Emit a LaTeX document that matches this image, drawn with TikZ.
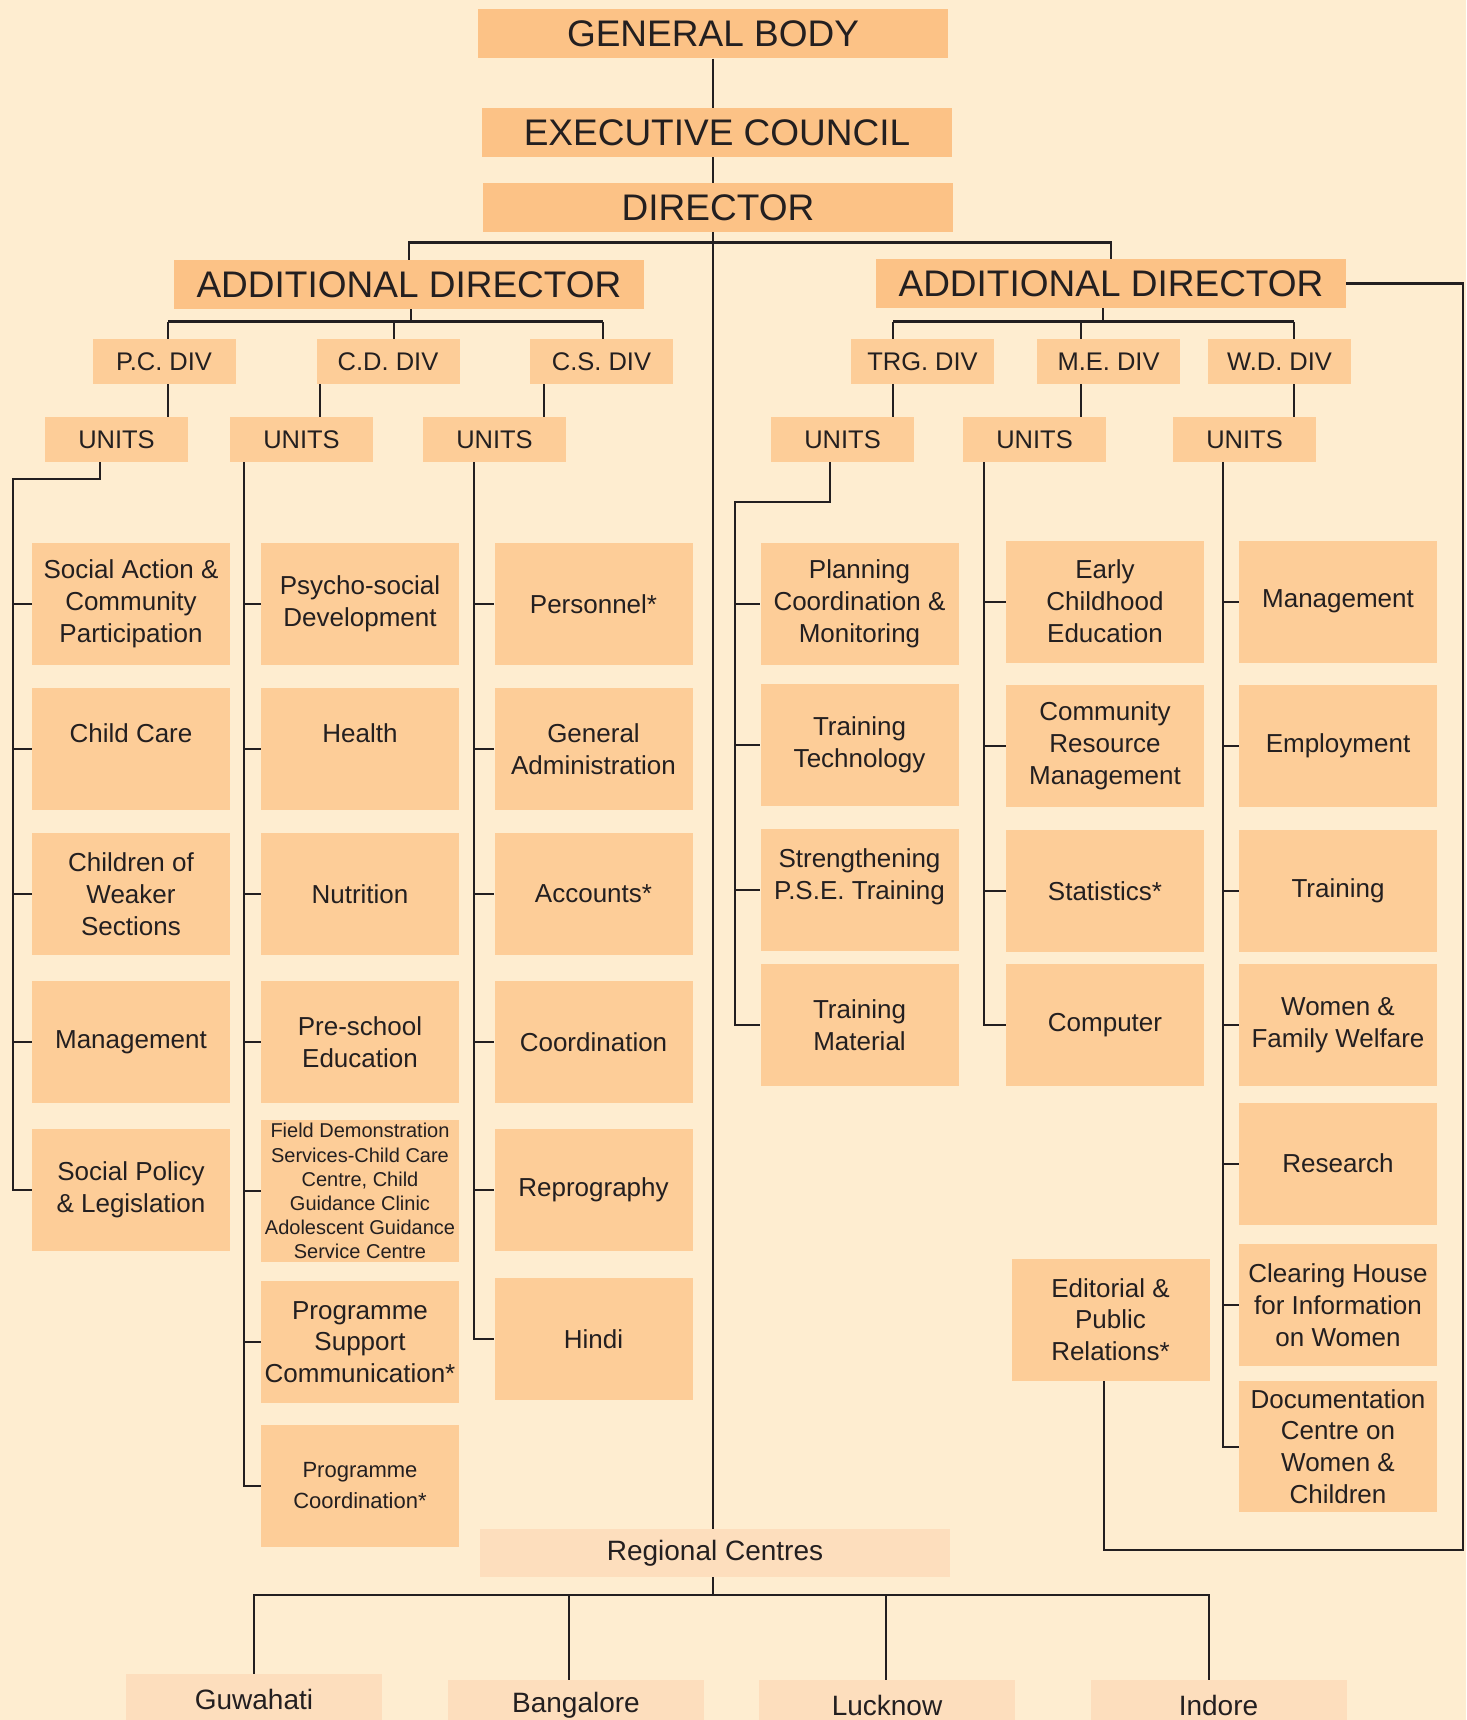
\documentclass[tikz,border=0pt]{standalone}
\usepackage{tikz}
\usetikzlibrary{backgrounds}
\usepackage{fontspec}
\setmainfont{Liberation Sans}
\definecolor{nen}{HTML}{FEEDD0}
\definecolor{cam}{HTML}{FCC286}
\definecolor{camnhat}{HTML}{FDCD98}
\definecolor{hong}{HTML}{FDDEBD}
\definecolor{muc}{HTML}{231F20}
\begin{document}
\begin{tikzpicture}[x=1pt,y=-1pt,line join=round,line cap=round,text=muc,
	lon/.style={fill=cam,minimum width=470,minimum height=49,inner sep=0,font=\fontsize{37}{44}\selectfont},
	nho/.style={fill=camnhat,minimum width=143,minimum height=45,inner sep=0,font=\fontsize{25.5}{30}\selectfont},
	don/.style={fill=camnhat,minimum width=198,minimum height=122,inner sep=0,align=center,font=\fontsize{26}{31.8}\selectfont},
	vung/.style={fill=hong,minimum width=256,minimum height=50,inner sep=0,anchor=north,font=\fontsize{28}{33}\selectfont},
	noi/.style={draw=muc,line width=2pt},
	thanh/.style={draw=muc,line width=2.7pt}]
	\useasboundingbox (0,0) rectangle (1466,1720);
	\clip (0,0) rectangle (1466,1720);
	\node[lon] (gb) at (713,34) {GENERAL BODY};
	\node[lon] (ec) at (717,133) {EXECUTIVE COUNCIL};
	\node[lon] (dir) at (718,208) {DIRECTOR};
	\node[lon] (adl) at (409,284.5) {ADDITIONAL DIRECTOR};
	\node[lon] (adr) at (1111,283.5) {ADDITIONAL DIRECTOR};
	\foreach \ten/\x/\chu in {pcdiv/164/P.C. DIV,cddiv/388/C.D. DIV,csdiv/601.5/C.S. DIV,trgdiv/922.5/TRG. DIV,mediv/1108.5/M.E. DIV,wddiv/1279.5/W.D. DIV}
		\node[nho] (\ten) at (\x,361.5) {\chu};
	\foreach \ten/\x in {pcunits/116.5,cdunits/301.5,csunits/494.5,trgunits/842.5,meunits/1034.5,wdunits/1244.5}
		\node[nho] (\ten) at (\x,439.5) {UNITS};
	\foreach \ten/\x/\y/\chu in {
		c1a/131/604/{Social Action \&\\Community\\Participation},
		c1b/131/749/{Child Care\\~},
		c1c/131/894/{Children of\\Weaker\\Sections},
		c1d/131/1042/{Management},
		c1e/131/1189.5/{Social Policy\\\& Legislation},
		c2a/360/604/{Psycho-social\\Development},
		c2b/360/749/{Health\\~},
		c2c/360/894/{Nutrition},
		c2d/360/1042/{Pre-school\\Education},
		c2f/360/1342/{Programme\\Support\\Communication*},
		c3a/593.5/604/{Personnel*},
		c3b/593.5/749/{General\\Administration},
		c3c/593.5/894/{Accounts*},
		c3d/593.5/1042/{Coordination},
		c3e/593.5/1189.5/{Reprography},
		c3f/593.5/1339/{Hindi},
		c4a/859.5/603.5/{Planning\\Coordination \&\\Monitoring},
		c4b/859.5/744.5/{Training\\Technology},
		c4c/859.5/890/{Strengthening\\P.S.E. Training\\~},
		c4d/859.5/1025/{Training\\Material},
		c5a/1105/601.5/{Early\\Childhood\\Education},
		c5b/1105/745.5/{Community\\Resource\\Management},
		c5c/1105/891/{Statistics*},
		c5d/1105/1025/{Computer},
		c6a/1338/601.5/{Management},
		c6b/1338/745.5/{Employment},
		c6c/1338/891/{Training},
		c6d/1338/1025/{Women \&\\Family Welfare},
		c6e/1338/1163.5/{Research},
		c6f/1338/1305/{Clearing House\\for Information\\on Women},
		edit/1110.5/1319.5/{Editorial \&\\Public\\Relations*}}
		\node[don] (\ten) at (\x,\y) {\chu};
	\node[don,minimum height=142,font=\fontsize{20}{24.1}\selectfont] (c2e) at (360,1191) {Field Demonstration\\Services-Child Care\\Centre, Child\\Guidance Clinic\\Adolescent Guidance\\Service Centre};
	\node[don,font=\fontsize{22}{31.8}\selectfont] (c2g) at (360,1485.5) {Programme\\Coordination*};
	\node[don,minimum height=131] (c6g) at (1338,1446.5) {Documentation\\Centre on\\Women \&\\Children};
	\node[lon,fill=hong,minimum height=48,font=\fontsize{28}{33}\selectfont] (reg) at (715,1553) {Regional Centres};
	\node[vung] (guw) at (254,1674) {Guwahati};
	\node[vung] (ban) at (576,1680) {Bangalore};
	\node[vung] (luc) at (887,1680) {Lucknow};
	\node[vung] (ind) at (1218.5,1680) {Indore};
	\begin{scope}[on background layer]
		\fill[nen] (0,0) rectangle (1466,1720);
		\draw[noi] (gb.south) -- (gb.south |- reg.north);
		\draw[thanh] (adl.north) -- ++(0,-17) -| (adr.north);
		\draw[noi] ([xshift=2]adl.south) -- ++(0,13);
		\draw[noi] ([xshift=-8]adr.south) -- ++(0,14);
		\draw[thanh] ([xshift=4,yshift=17]pcdiv.north) -- ([xshift=1.5,yshift=17]csdiv.north);
		\draw[thanh] ([xshift=-29.5,yshift=17]trgdiv.north) -- ([xshift=14.5,yshift=17]wddiv.north);
		\foreach \d/\u/\a/\b in {pcdiv/pcunits/4/4,cddiv/cdunits/6/-68,csdiv/csunits/1.5/-57.5,trgdiv/trgunits/-29.5/-29.5,mediv/meunits/-27.5/-27.5,wddiv/wdunits/14.5/14.5}{
			\draw[noi] ([xshift=\a,yshift=17]\d.north) -- ([xshift=\a]\d.north);
			\draw[noi] ([xshift=\b]\d.south) -- ([xshift=\b]\d.south |- \u.north);
		}
		\coordinate (pct) at (13,479);
		\draw[noi] ([xshift=-16.5]pcunits.south) |- (pct) |- (c1e.west);
		\foreach \b in {c1a,c1b,c1c,c1d} \draw[noi] (pct |- \b.west) -- (\b.west);
		\coordinate (cdt) at ([xshift=-57.5]cdunits.south);
		\draw[noi] (cdt) |- (c2g.west);
		\foreach \b in {c2a,c2b,c2c,c2d,c2e,c2f} \draw[noi] (cdt |- \b.west) -- (\b.west);
		\coordinate (cst) at ([xshift=-20.5]csunits.south);
		\draw[noi] (cst) |- (c3f.west);
		\foreach \b in {c3a,c3b,c3c,c3d,c3e} \draw[noi] (cst |- \b.west) -- (\b.west);
		\coordinate (trgt) at (735,501.5);
		\draw[noi] ([xshift=-12.5]trgunits.south) |- (trgt) |- (c4d.west);
		\foreach \b in {c4a,c4b,c4c} \draw[noi] (trgt |- \b.west) -- (\b.west);
		\coordinate (met) at ([xshift=-50.5]meunits.south);
		\draw[noi] (met) |- (c5d.west);
		\foreach \b in {c5a,c5b,c5c} \draw[noi] (met |- \b.west) -- (\b.west);
		\coordinate (wdt) at ([xshift=-21.5]wdunits.south);
		\draw[noi] (wdt) |- (c6g.west);
		\foreach \b in {c6a,c6b,c6c,c6d,c6e,c6f} \draw[noi] (wdt |- \b.west) -- (\b.west);
		\coordinate (rc) at (1463,1550);
		\draw[thanh,line width=2.5pt] (adr.east) -| (rc) -| ([xshift=-6.5]edit.south);
		\coordinate (cb) at (713,1595);
		\draw[noi] (cb |- reg.south) -- (cb);
		\draw[noi] (guw.north) |- (cb) -| ([xshift=-9.5]ind.north);
		\foreach \c/\s in {ban/-7,luc/-1} \draw[noi] ([xshift=\s]\c.north) -- ([xshift=\s]\c.north |- cb);
	\end{scope}
\end{tikzpicture}
\end{document}
